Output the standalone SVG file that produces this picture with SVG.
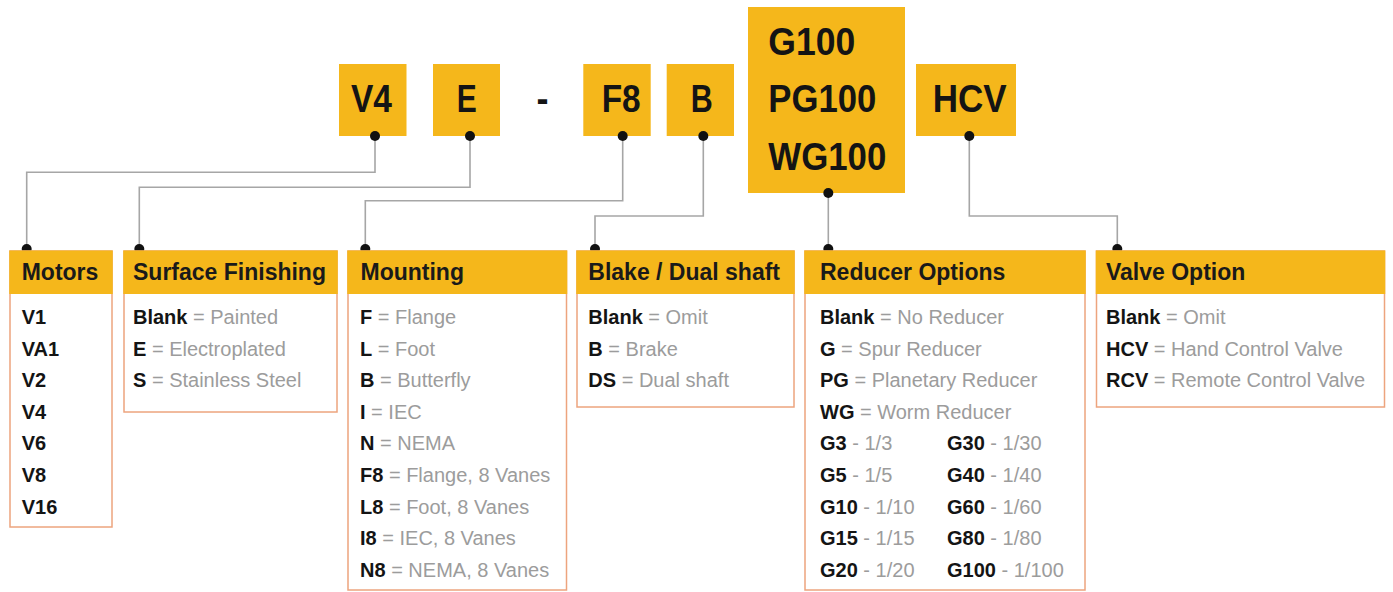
<svg xmlns="http://www.w3.org/2000/svg" width="1393" height="592" viewBox="0 0 1393 592">
<style>
.box{fill:#F5B71B}
.big{font-family:"Liberation Sans",Arial,sans-serif;font-weight:bold;font-size:38px;fill:#141414}
.panel{fill:#ffffff;stroke:#EDA47E;stroke-width:1.5}
.head{fill:#F5B71B}
.hdr{font-family:"Liberation Sans",Arial,sans-serif;font-weight:bold;font-size:23px;fill:#1a1a1a}
.t{font-family:"Liberation Sans",Arial,sans-serif;font-size:20px;fill:#9c9c9c}
.k{font-weight:bold;fill:#141414}
.conn{fill:none;stroke:#a6a6a6;stroke-width:1.6}
.dot{fill:#111111}
</style>
<rect width="1393" height="592" fill="#ffffff"/>

<g id="code-V4">
<rect class="box" x="339" y="64" width="67.5" height="72"/>
<text class="big" x="351" y="112" textLength="41" lengthAdjust="spacingAndGlyphs">V4</text>
</g>
<g id="code-E">
<rect class="box" x="433" y="64" width="67" height="72"/>
<text class="big" x="456.7" y="112" textLength="20" lengthAdjust="spacingAndGlyphs">E</text>
</g>
<g id="code-dash">
<text class="big" x="536.5" y="112" textLength="12" lengthAdjust="spacingAndGlyphs">-</text>
</g>
<g id="code-F8">
<rect class="box" x="583.3" y="64" width="67.4" height="72"/>
<text class="big" x="601.7" y="112" textLength="39" lengthAdjust="spacingAndGlyphs">F8</text>
</g>
<g id="code-B">
<rect class="box" x="666.7" y="64" width="67.3" height="72"/>
<text class="big" x="690.7" y="112" textLength="22" lengthAdjust="spacingAndGlyphs">B</text>
</g>
<g id="code-G100">
<rect class="box" x="748" y="7" width="157" height="186"/>
<text class="big" x="768.3" y="55" textLength="87" lengthAdjust="spacingAndGlyphs">G100</text>
<text class="big" x="768.3" y="112" textLength="108" lengthAdjust="spacingAndGlyphs">PG100</text>
<text class="big" x="768.3" y="170" textLength="118" lengthAdjust="spacingAndGlyphs">WG100</text>
</g>
<g id="code-HCV">
<rect class="box" x="916" y="64" width="100" height="72"/>
<text class="big" x="932.7" y="112" textLength="74" lengthAdjust="spacingAndGlyphs">HCV</text>
</g>

<g id="connectors">
<path class="conn" d="M375,136 V172.3 H26.7 V249"/>
<path class="conn" d="M470,136 V187.3 H139.3 V249"/>
<path class="conn" d="M622.7,136 V200.7 H365.3 V249"/>
<path class="conn" d="M703.3,136 V216 H595 V249"/>
<path class="conn" d="M828.3,193 V249"/>
<path class="conn" d="M969.3,136 V216 H1117.3 V249"/>
<circle class="dot" cx="375" cy="136" r="5"/>
<circle class="dot" cx="470" cy="136" r="5"/>
<circle class="dot" cx="622.7" cy="136" r="5"/>
<circle class="dot" cx="703.3" cy="136" r="5"/>
<circle class="dot" cx="828.3" cy="193" r="5"/>
<circle class="dot" cx="969.3" cy="136" r="5"/>
<circle class="dot" cx="26.7" cy="249" r="5"/>
<circle class="dot" cx="139.3" cy="249" r="5"/>
<circle class="dot" cx="365.3" cy="249" r="5"/>
<circle class="dot" cx="595" cy="249" r="5"/>
<circle class="dot" cx="828.3" cy="249" r="5"/>
<circle class="dot" cx="1117.3" cy="249" r="5"/>
</g>

<g id="panel-motors">
<rect class="panel" x="10" y="251" width="102" height="276"/>
<rect class="head" x="9.25" y="250.5" width="103.5" height="43.5"/>
<text class="hdr" x="21.7" y="280">Motors</text>
<text class="t k" x="21.7" y="324">V1</text>
<text class="t k" x="21.7" y="355.6">VA1</text>
<text class="t k" x="21.7" y="387.2">V2</text>
<text class="t k" x="21.7" y="418.8">V4</text>
<text class="t k" x="21.7" y="450.4">V6</text>
<text class="t k" x="21.7" y="482">V8</text>
<text class="t k" x="21.7" y="513.6">V16</text>
</g>

<g id="panel-surface">
<rect class="panel" x="124" y="251" width="213" height="161"/>
<rect class="head" x="123.25" y="250.5" width="214.5" height="43.5"/>
<text class="hdr" x="133" y="280">Surface Finishing</text>
<text class="t" x="133" y="324"><tspan class="k">Blank</tspan> = Painted</text>
<text class="t" x="133" y="355.6"><tspan class="k">E</tspan> = Electroplated</text>
<text class="t" x="133" y="387.2"><tspan class="k">S</tspan> = Stainless Steel</text>
</g>

<g id="panel-mounting">
<rect class="panel" x="348" y="251" width="218.5" height="339"/>
<rect class="head" x="347.25" y="250.5" width="220" height="43.5"/>
<text class="hdr" x="360.5" y="280">Mounting</text>
<text class="t" x="360" y="324"><tspan class="k">F</tspan> = Flange</text>
<text class="t" x="360" y="355.6"><tspan class="k">L</tspan> = Foot</text>
<text class="t" x="360" y="387.2"><tspan class="k">B</tspan> = Butterfly</text>
<text class="t" x="360" y="418.8"><tspan class="k">I</tspan> = IEC</text>
<text class="t" x="360" y="450.4"><tspan class="k">N</tspan> = NEMA</text>
<text class="t" x="360" y="482"><tspan class="k">F8</tspan> = Flange, 8 Vanes</text>
<text class="t" x="360" y="513.6"><tspan class="k">L8</tspan> = Foot, 8 Vanes</text>
<text class="t" x="360" y="545.2"><tspan class="k">I8</tspan> = IEC, 8 Vanes</text>
<text class="t" x="360" y="576.8"><tspan class="k">N8</tspan> = NEMA, 8 Vanes</text>
</g>

<g id="panel-brake">
<rect class="panel" x="577" y="251" width="217" height="156"/>
<rect class="head" x="576.25" y="250.5" width="218.5" height="43.5"/>
<text class="hdr" x="588.3" y="280">Blake / Dual shaft</text>
<text class="t" x="588.3" y="324"><tspan class="k">Blank</tspan> = Omit</text>
<text class="t" x="588.3" y="355.6"><tspan class="k">B</tspan> = Brake</text>
<text class="t" x="588.3" y="387.2"><tspan class="k">DS</tspan> = Dual shaft</text>
</g>

<g id="panel-reducer">
<rect class="panel" x="805" y="251" width="280" height="339"/>
<rect class="head" x="804.25" y="250.5" width="281.5" height="43.5"/>
<text class="hdr" x="820" y="280">Reducer Options</text>
<text class="t" x="820" y="324"><tspan class="k">Blank</tspan> = No Reducer</text>
<text class="t" x="820" y="355.6"><tspan class="k">G</tspan> = Spur Reducer</text>
<text class="t" x="820" y="387.2"><tspan class="k">PG</tspan> = Planetary Reducer</text>
<text class="t" x="820" y="418.8"><tspan class="k">WG</tspan> = Worm Reducer</text>
<text class="t" x="820" y="450.4"><tspan class="k">G3</tspan> - 1/3</text>
<text class="t" x="820" y="482"><tspan class="k">G5</tspan> - 1/5</text>
<text class="t" x="820" y="513.6"><tspan class="k">G10</tspan> - 1/10</text>
<text class="t" x="820" y="545.2"><tspan class="k">G15</tspan> - 1/15</text>
<text class="t" x="820" y="576.8"><tspan class="k">G20</tspan> - 1/20</text>
<text class="t" x="947" y="450.4"><tspan class="k">G30</tspan> - 1/30</text>
<text class="t" x="947" y="482"><tspan class="k">G40</tspan> - 1/40</text>
<text class="t" x="947" y="513.6"><tspan class="k">G60</tspan> - 1/60</text>
<text class="t" x="947" y="545.2"><tspan class="k">G80</tspan> - 1/80</text>
<text class="t" x="947" y="576.8"><tspan class="k">G100</tspan> - 1/100</text>
</g>

<g id="panel-valve">
<rect class="panel" x="1096.5" y="251" width="288" height="156"/>
<rect class="head" x="1095.75" y="250.5" width="289.5" height="43.5"/>
<text class="hdr" x="1106" y="280">Valve Option</text>
<text class="t" x="1106" y="324"><tspan class="k">Blank</tspan> = Omit</text>
<text class="t" x="1106" y="355.6"><tspan class="k">HCV</tspan> = Hand Control Valve</text>
<text class="t" x="1106" y="387.2"><tspan class="k">RCV</tspan> = Remote Control Valve</text>
</g>
</svg>
